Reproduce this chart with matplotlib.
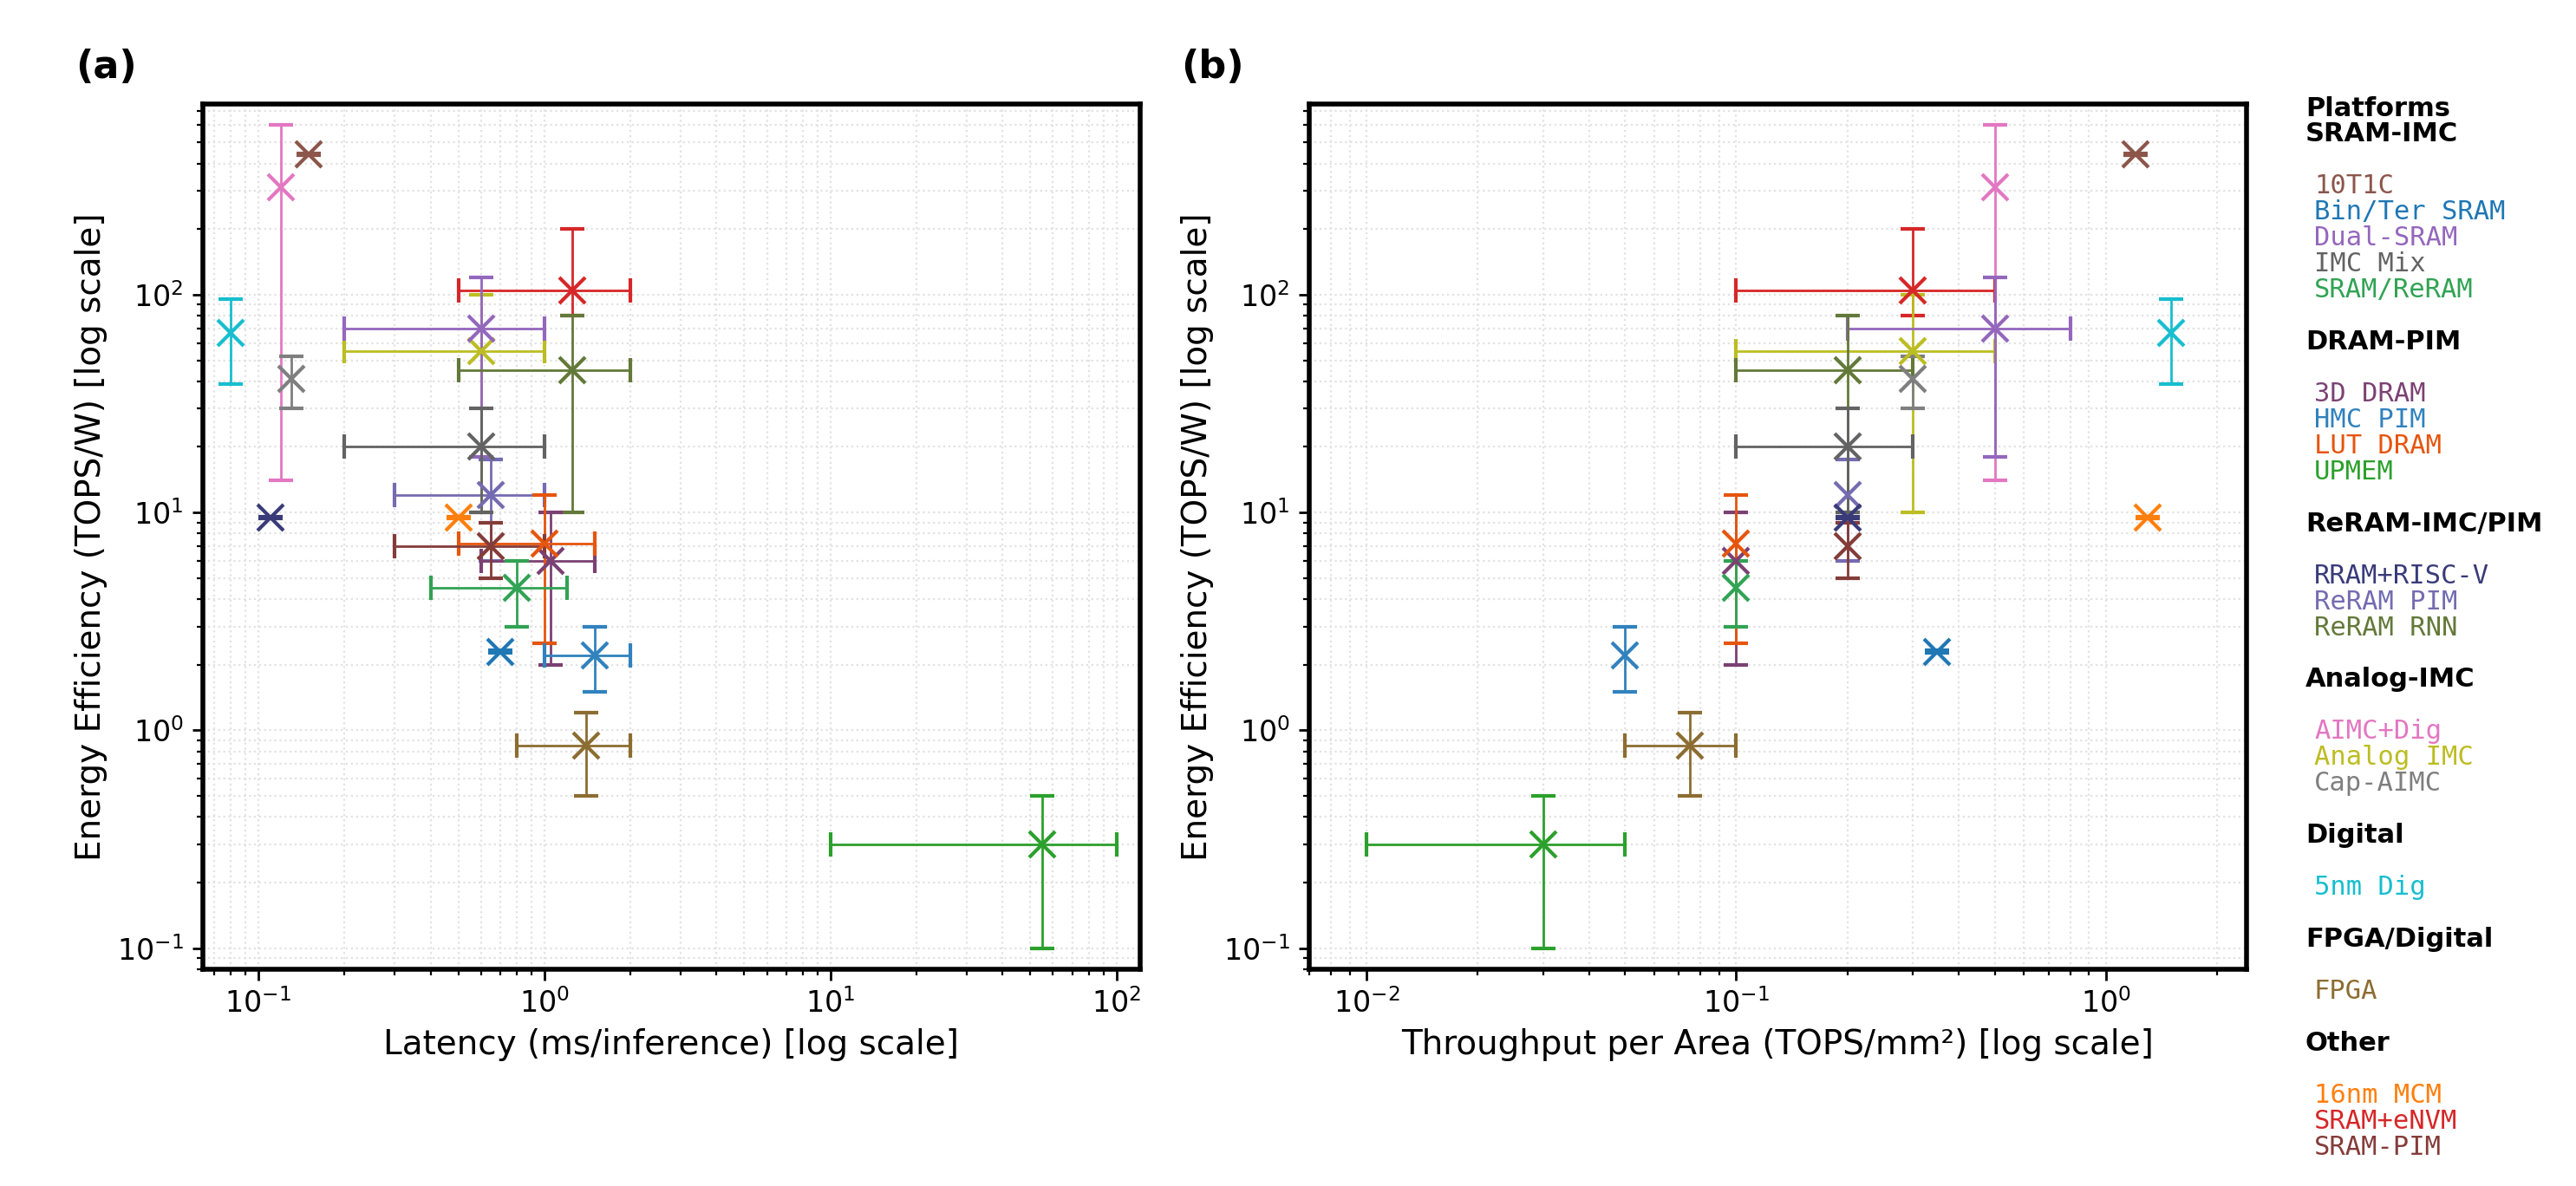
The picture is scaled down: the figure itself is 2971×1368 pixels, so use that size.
import matplotlib
matplotlib.use("Agg")
import matplotlib.pyplot as plt

# platform data (draw order)
platforms = ["SRAM+eNVM", "AIMC+Dig", "Analog IMC", "Cap-AIMC", "Dual-SRAM",
             "ReRAM PIM", "ReRAM RNN", "IMC Mix", "RRAM+RISC-V", "10T1C",
             "Bin/Ter SRAM", "3D DRAM", "LUT DRAM", "SRAM/ReRAM", "HMC PIM",
             "UPMEM", "5nm Dig", "FPGA", "16nm MCM", "SRAM-PIM"]
colors = ["#d62728", "#e377c2", "#bcbd22", "#7f7f7f", "#9467bd",
          "#756bb1", "#637939", "#636363", "#393b79", "#8c564b",
          "#1f77b4", "#7b4173", "#e6550d", "#31a354", "#3182bd",
          "#2ca02c", "#17becf", "#8c6d31", "#ff7f0e", "#843c39"]

latency = [1.25, 0.12, 0.6, 0.13, 0.6, 0.65, 1.25, 0.6, 0.11, 0.15,
           0.7, 1.05, 1.0, 0.8, 1.5, 55, 0.08, 1.4, 0.5, 0.65]
latency_lo = [0.5, 0.12, 0.2, 0.13, 0.2, 0.3, 0.5, 0.2, 0.11, 0.15,
              0.7, 0.6, 0.5, 0.4, 1.0, 10, 0.08, 0.8, 0.5, 0.3]
latency_hi = [2.0, 0.12, 1.0, 0.13, 1.0, 1.0, 2.0, 1.0, 0.11, 0.15,
              0.7, 1.5, 1.5, 1.2, 2.0, 100, 0.08, 2.0, 0.5, 1.0]

throughput = [0.3, 0.5, 0.3, 0.3, 0.5, 0.2, 0.2, 0.2, 0.2, 1.2,
              0.35, 0.1, 0.1, 0.1, 0.05, 0.03, 1.5, 0.075, 1.3, 0.2]
thr_lo = [0.1, 0.5, 0.1, 0.3, 0.2, 0.2, 0.1, 0.1, 0.2, 1.2,
          0.35, 0.1, 0.1, 0.1, 0.05, 0.01, 1.5, 0.05, 1.3, 0.2]
thr_hi = [0.5, 0.5, 0.5, 0.3, 0.8, 0.2, 0.3, 0.3, 0.2, 1.2,
          0.35, 0.1, 0.1, 0.1, 0.05, 0.05, 1.5, 0.1, 1.3, 0.2]

efficiency = [105, 310, 55, 41, 70, 12, 45, 20, 9.5, 440,
              2.3, 6, 7.2, 4.5, 2.2, 0.3, 67, 0.85, 9.5, 7]
eff_lo = [80, 14, 10, 30, 18, 6, 10, 10, 9.4, 435,
          2.27, 2, 2.5, 3, 1.5, 0.1, 39, 0.5, 9.4, 5]
eff_hi = [200, 600, 100, 52, 120, 17.5, 80, 30, 9.6, 445,
          2.33, 10, 12, 6, 3.0, 0.5, 95, 1.2, 9.6, 9]

# legend groups
group_names = ["SRAM-IMC", "DRAM-PIM", "ReRAM-IMC/PIM", "Analog-IMC",
               "Digital", "FPGA/Digital", "Other"]
group_members = [["10T1C", "Bin/Ter SRAM", "Dual-SRAM", "IMC Mix", "SRAM/ReRAM"],
                 ["3D DRAM", "HMC PIM", "LUT DRAM", "UPMEM"],
                 ["RRAM+RISC-V", "ReRAM PIM", "ReRAM RNN"],
                 ["AIMC+Dig", "Analog IMC", "Cap-AIMC"],
                 ["5nm Dig"],
                 ["FPGA"],
                 ["16nm MCM", "SRAM+eNVM", "SRAM-PIM"]]

W, H = 2971, 1368
fig = plt.figure(figsize=(W / 200, H / 200), dpi=200)
ax1 = fig.add_axes([234 / W, 1 - 1118 / H, 1081 / W, 998 / H])
ax2 = fig.add_axes([1510 / W, 1 - 1118 / H, 1081 / W, 998 / H])


def err(v, lo, hi):
    # no bar at all when there is no spread
    if lo == hi:
        return None
    return [[v - lo], [hi - v]]


def draw(ax, xs, xlo, xhi):
    for i in range(len(platforms)):
        ax.errorbar(xs[i], efficiency[i],
                    xerr=err(xs[i], xlo[i], xhi[i]),
                    yerr=err(efficiency[i], eff_lo[i], eff_hi[i]),
                    fmt='x', color=colors[i], markersize=11, mew=1.5,
                    elinewidth=1, capsize=5, capthick=1.5)
    ax.set_xscale('log')
    ax.set_yscale('log')
    ax.set_ylim(0.08, 750)
    ax.grid(True, which='both', linestyle=':', linewidth=0.8, color='#e2e2e2')
    ax.set_axisbelow(True)
    for s in ax.spines.values():
        s.set_linewidth(2)
    ax.tick_params(which='major', length=4.5, width=1.0, labelsize=12)
    ax.tick_params(which='minor', length=2.5, width=0.8)
    ax.set_ylabel("Energy Efficiency (TOPS/W) [log scale]", fontsize=14)


draw(ax1, latency, latency_lo, latency_hi)
ax1.set_xlim(0.064, 121)
ax1.set_xlabel("Latency (ms/inference) [log scale]", fontsize=14)
ax1.text(-0.136, 1.043, "(a)", transform=ax1.transAxes, fontsize=16,
         fontweight='bold', ha='left', va='center')

draw(ax2, throughput, thr_lo, thr_hi)
ax2.set_xlim(0.007, 2.4)
ax2.set_xlabel("Throughput per Area (TOPS/mm²) [log scale]", fontsize=14)
ax2.text(-0.137, 1.043, "(b)", transform=ax2.transAxes, fontsize=16,
         fontweight='bold', ha='left', va='center')

# legend as coloured text lines
step = 29.95
y0 = 125
fig.text(2659 / W, 1 - y0 / H, "Platforms", fontsize=11, fontweight='bold',
         ha='left', va='center')
line = 1
for gname, members in zip(group_names, group_members):
    fig.text(2659 / W, 1 - (y0 + step * line) / H, gname, fontsize=11,
             fontweight='bold', ha='left', va='center')
    line += 2
    for m in members:
        fig.text(2669 / W, 1 - (y0 + step * line) / H, m, fontsize=11,
                 family='DejaVu Sans Mono', color=colors[platforms.index(m)],
                 ha='left', va='center')
        line += 1
    line += 1

plt.savefig("out.png", dpi=200)
